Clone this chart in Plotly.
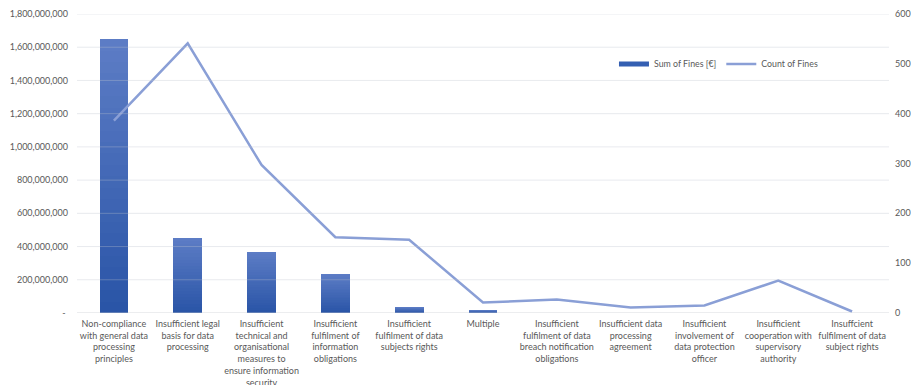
import plotly.graph_objects as go

# GDPR fines by violation type
categories = [
    "Non-compliance<br>with general data<br>processing<br>principles",
    "Insufficient legal<br>basis for data<br>processing",
    "Insufficient<br>technical and<br>organisational<br>measures to<br>ensure information<br>security",
    "Insufficient<br>fulfilment of<br>information<br>obligations",
    "Insufficient<br>fulfilment of data<br>subjects rights",
    "Multiple",
    "Insufficient<br>fulfilment of data<br>breach notification<br>obligations",
    "Insufficient data<br>processing<br>agreement",
    "Insufficient<br>involvement of<br>data protection<br>officer",
    "Insufficient<br>cooperation with<br>supervisory<br>authority",
    "Insuffcient<br>fulfilment of data<br>subject rights",
]
sum_of_fines = [1648000000, 453000000, 369000000, 236000000, 36000000, 18000000,
                500000, 200000, 300000, 600000, 100000]
count_of_fines = [386, 541, 297, 152, 147, 21, 27, 11, 15, 65, 3]

left_ticks = [i * 200000000 for i in range(10)]
left_ticktext = ["-\u00a0"] + [f"{v:,}" for v in left_ticks[1:]]
right_ticks = [0, 100, 200, 300, 400, 500, 600]

FONT = "Lato, 'Open Sans', sans-serif"
GREY = "#595959"

fig = go.Figure()

# bars with a vertical gradient: each bar is split into equal slices, light at top
n_slices = 24
top_rgb = (92, 124, 197)
bot_rgb = (42, 85, 167)
for i in range(n_slices):
    t = i / (n_slices - 1)
    r, g, b = (round(lo + (hi - lo) * t) for hi, lo in zip(top_rgb, bot_rgb))
    fig.add_trace(go.Bar(
        x=categories,
        y=[v / n_slices for v in sum_of_fines],
        marker=dict(color=f"rgba({r},{g},{b},0.999)", line=dict(width=0)),
        showlegend=False,
        hoverinfo="skip",
        yaxis="y",
    ))

# legend entry for the bars
fig.add_trace(go.Scatter(
    x=[None], y=[None], mode="lines", name="Sum of Fines [€]",
    line=dict(color="rgb(52,95,178)", width=5), yaxis="y",
))

fig.add_trace(go.Scatter(
    x=categories, y=count_of_fines, mode="lines", name="Count of Fines",
    line=dict(color="#8a9fd6", width=2.5), yaxis="y2",
))

# horizontal gridlines drawn over the bars
for v in left_ticks:
    fig.add_shape(type="line", xref="paper", x0=0, x1=1, yref="y", y0=v, y1=v,
                  line=dict(color="rgba(190,195,205,0.35)" if v else "rgba(200,203,210,0.7)", width=1),
                  layer="above")

fig.update_layout(
    width=911, height=385,
    margin=dict(l=77, r=22, t=14, b=72, autoexpand=False),
    paper_bgcolor="white", plot_bgcolor="white",
    barmode="stack", bargap=0.61,
    font=dict(family=FONT, size=9, color=GREY),
    showlegend=True,
    legend=dict(orientation="h", x=0.79, xanchor="center", y=0.833, yanchor="middle",
                bgcolor="rgba(0,0,0,0)", font=dict(size=8.8, color=GREY),
                itemwidth=30, traceorder="normal"),
    xaxis=dict(showgrid=False, zeroline=False, showline=False, tickangle=0, automargin=False,
               ticks="", ticklabelstandoff=4, tickfont=dict(size=9, color=GREY)),
    yaxis=dict(range=[0, 1800000000], tickvals=left_ticks, ticktext=left_ticktext,
               showgrid=False, zeroline=False, showline=False, ticks="", automargin=False,
               ticklabelstandoff=8, tickfont=dict(size=9, color=GREY)),
    yaxis2=dict(range=[0, 600], tickvals=right_ticks, overlaying="y", side="right",
                showgrid=False, zeroline=False, showline=False, ticks="", automargin=False,
                ticklabelstandoff=5, tickfont=dict(size=9, color=GREY)),
)

fig.write_html("out.html")
